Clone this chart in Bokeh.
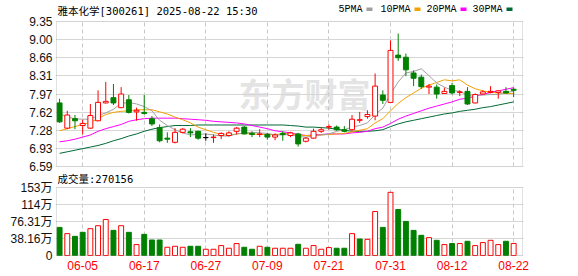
import numpy as np
from bokeh.plotting import figure
from bokeh.models import ColumnDataSource, FixedTicker, Label, Range1d, BoxAnnotation
from bokeh.layouts import column
from bokeh.embed import file_html
from bokeh.resources import INLINE

# ---------------- data ----------------
dates = ["05-30", "06-03", "06-04", "06-05", "06-06", "06-09", "06-10", "06-11", "06-12", "06-13",
         "06-16", "06-17", "06-18", "06-19", "06-20", "06-23", "06-24", "06-25", "06-26", "06-27",
         "06-30", "07-01", "07-02", "07-03", "07-04", "07-07", "07-08", "07-09", "07-10", "07-11",
         "07-14", "07-15", "07-16", "07-17", "07-18", "07-21", "07-22", "07-23", "07-24", "07-25",
         "07-28", "07-29", "07-30", "07-31", "08-01", "08-04", "08-05", "08-06", "08-07", "08-08",
         "08-11", "08-12", "08-13", "08-14", "08-15", "08-18", "08-19", "08-20", "08-21", "08-22"]

opens = [7.80, 7.32, 7.50, 7.37, 7.32, 7.46, 7.80, 7.90, 7.71, 7.86,
         7.63, 7.62, 7.50, 7.33, 7.13, 7.05, 7.24, 7.25, 7.26, 7.14,
         7.14, 7.18, 7.18, 7.26, 7.34, 7.22, 7.20, 7.20, 7.15, 7.22,
         7.18, 7.21, 7.07, 7.13, 7.26, 7.34, 7.34, 7.29, 7.29, 7.47,
         7.54, 7.55, 7.95, 7.81, 8.71, 8.67, 8.37, 8.29, 8.10, 8.10,
         7.98, 8.13, 8.00, 8.02, 7.80, 7.97, 8.00, 8.00, 8.02, 8.06]
highs = [7.88, 7.65, 7.57, 7.48, 7.78, 8.04, 8.20, 8.16, 8.10, 7.95,
         7.71, 7.95, 7.55, 7.39, 7.24, 7.32, 7.32, 7.32, 7.27, 7.22,
         7.20, 7.24, 7.26, 7.34, 7.36, 7.26, 7.30, 7.23, 7.22, 7.26,
         7.25, 7.23, 7.15, 7.31, 7.34, 7.39, 7.37, 7.36, 7.57, 7.63,
         7.66, 8.36, 8.04, 8.99, 9.12, 8.74, 8.42, 8.34, 8.16, 8.15,
         8.09, 8.18, 8.04, 8.10, 7.98, 8.04, 8.12, 8.04, 8.10, 8.09]
lows = [7.42, 7.30, 7.30, 7.20, 7.31, 7.45, 7.79, 7.76, 7.70, 7.60,
        7.46, 7.58, 7.36, 7.05, 7.04, 7.03, 7.22, 7.15, 7.10, 7.08,
        7.04, 7.11, 7.16, 7.20, 7.20, 7.15, 7.15, 7.10, 7.09, 7.08,
        7.15, 6.97, 7.05, 7.12, 7.23, 7.29, 7.27, 7.24, 7.27, 7.42,
        7.50, 7.47, 7.78, 7.80, 8.60, 8.31, 8.12, 8.07, 7.97, 7.88,
        7.97, 7.96, 7.93, 7.76, 7.79, 7.96, 7.98, 7.88, 7.98, 7.91]
closes = [7.44, 7.57, 7.46, 7.41, 7.56, 7.81, 7.83, 7.80, 7.97, 7.62,
          7.66, 7.60, 7.40, 7.08, 7.11, 7.24, 7.30, 7.23, 7.13, 7.14,
          7.15, 7.22, 7.23, 7.32, 7.21, 7.20, 7.21, 7.15, 7.19, 7.20,
          7.23, 7.02, 7.13, 7.26, 7.29, 7.35, 7.29, 7.26, 7.49, 7.48,
          7.58, 8.12, 7.85, 8.80, 8.66, 8.43, 8.27, 8.11, 8.12, 7.97,
          8.02, 7.99, 8.01, 7.78, 7.96, 8.01, 8.02, 8.03, 7.99, 8.04]

ma5 = [7.60, 7.53, 7.50, 7.49, 7.49, 7.56, 7.61, 7.68, 7.79, 7.81,
       7.78, 7.73, 7.65, 7.47, 7.37, 7.29, 7.23, 7.19, 7.20, 7.21,
       7.19, 7.17, 7.17, 7.21, 7.23, 7.24, 7.23, 7.22, 7.19, 7.19,
       7.20, 7.16, 7.15, 7.17, 7.19, 7.21, 7.26, 7.29, 7.34, 7.37,
       7.42, 7.58, 7.70, 7.97, 8.20, 8.37, 8.40, 8.45, 8.32, 8.18,
       8.10, 8.04, 8.02, 7.95, 7.95, 7.95, 7.96, 7.96, 8.00, 8.02]
ma10 = [7.27, 7.31, 7.35, 7.39, 7.43, 7.50, 7.58, 7.62, 7.64, 7.65,
        7.67, 7.67, 7.67, 7.63, 7.59, 7.53, 7.48, 7.42, 7.34, 7.29,
        7.24, 7.20, 7.18, 7.21, 7.22, 7.21, 7.20, 7.20, 7.20, 7.21,
        7.22, 7.19, 7.18, 7.18, 7.19, 7.20, 7.21, 7.22, 7.25, 7.28,
        7.31, 7.42, 7.50, 7.65, 7.79, 7.90, 7.99, 8.08, 8.14, 8.19,
        8.24, 8.22, 8.24, 8.14, 8.07, 8.03, 8.00, 7.99, 7.98, 7.98]
ma20 = [7.06, 7.08, 7.11, 7.15, 7.19, 7.26, 7.31, 7.35, 7.39, 7.45,
        7.48, 7.50, 7.51, 7.51, 7.51, 7.51, 7.50, 7.49, 7.48, 7.47,
        7.45, 7.44, 7.43, 7.42, 7.40, 7.37, 7.34, 7.31, 7.27, 7.25,
        7.23, 7.20, 7.18, 7.19, 7.20, 7.21, 7.21, 7.21, 7.23, 7.24,
        7.26, 7.31, 7.34, 7.41, 7.49, 7.55, 7.60, 7.65, 7.70, 7.74,
        7.78, 7.82, 7.87, 7.89, 7.93, 7.96, 8.00, 8.03, 8.06, 8.09]
ma30 = [6.84, 6.87, 6.90, 6.93, 6.96, 6.99, 7.03, 7.08, 7.12, 7.17,
        7.21, 7.26, 7.30, 7.33, 7.35, 7.37, 7.37, 7.37, 7.38, 7.38,
        7.38, 7.38, 7.38, 7.38, 7.38, 7.38, 7.38, 7.38, 7.38, 7.38,
        7.37, 7.36, 7.34, 7.34, 7.33, 7.32, 7.30, 7.28, 7.26, 7.26,
        7.26, 7.27, 7.29, 7.35, 7.40, 7.44, 7.47, 7.50, 7.53, 7.56,
        7.59, 7.61, 7.64, 7.66, 7.68, 7.71, 7.73, 7.76, 7.79, 7.82]

# volume in units of 10k (万)
volumes = [63.1, 49.1, 43.0, 52.0, 60.2, 66.9, 80.9, 56.4, 66.9, 52.0,
           24.5, 47.5, 34.8, 34.8, 18.5, 20.7, 18.5, 20.7, 20.7, 14.0,
           14.0, 22.3, 16.3, 26.8, 18.5, 14.0, 20.7, 18.5, 16.3, 16.3,
           16.3, 25.2, 16.3, 22.3, 14.0, 17.8, 16.3, 16.3, 49.1, 37.0,
           36.3, 98.8, 63.1, 141.8, 103.2, 76.5, 56.4, 45.3, 40.1, 34.1,
           24.5, 26.8, 26.8, 31.9, 22.3, 29.0, 34.1, 24.5, 31.9, 27.0156]

price_tick_labels = ["6.59", "6.93", "7.28", "7.62", "7.97", "8.31", "8.66", "9.00", "9.35"]
price_low, price_high = 6.59, 9.35
vol_tick_labels = ["0", "38.16万", "76.31万", "114万", "153万"]
vol_max = 152.62
date_tick_labels = ["06-05", "06-17", "06-27", "07-09", "07-21", "07-31", "08-12", "08-22"]

title_text = "雅本化学[300261] 2025-08-22 15:30"
ma_names = ["5PMA", "10PMA", "20PMA", "30PMA"]

# ---------------- styles / layout constants (page pixels) ----------------
RED = "#ff0000"
GREEN = "#008000"
MA_COLORS = ["#a0a0a0", "#f2a100", "#ff00ff", "#006a35"]
GRID = "#d6d6d6"
FRAME = "#9a9a9a"
MIXED_FONT = "DejaVu Sans Mono, Noto Sans CJK SC"

W = 578
H1, H2 = 173, 103
FX0, FX1 = 55, 523          # frame x extent
BX0, BX1 = 56, 522          # panel border x
MAIN_TOP, MAIN_BOT = 21, 166  # where 9.35 / 6.59 sit
VOL_TOP, VOL_BOT = 187, 255   # where vol max / 0 sit
F1_TOP, F1_BOT = 0, H1        # main frame (page y)
F2_TOP, F2_BOT = H1, 256      # volume frame (page y)

n = len(dates)
xs = list(range(n))
cand_col = [RED if c > o else (GREEN if c < o else "#000000") for o, c in zip(opens, closes)]
cand_fill = ["#ffffff" if c > o else col for o, c, col in zip(opens, closes, cand_col)]
src = ColumnDataSource(dict(
    x=xs, o=opens, h=highs, l=lows, c=closes,
    top=[max(o, c) for o, c in zip(opens, closes)],
    bot=[min(o, c) for o, c in zip(opens, closes)],
    col=cand_col, fill=cand_fill))

vol_up = [closes[i] > closes[i - 1] if i > 0 else closes[0] > opens[0] for i in range(n)]
vsrc = ColumnDataSource(dict(
    x=xs, v=volumes,
    col=[RED if u else GREEN for u in vol_up],
    fill=["#ffffff" if u else GREEN for u in vol_up]))

date_ticks = [dates.index(d) for d in date_tick_labels]
price_ticks = list(np.linspace(price_low, price_high, len(price_tick_labels)))
vol_ticks = list(np.linspace(0, vol_max, len(vol_tick_labels)))


def span_range(v_lo, p_lo, v_hi, p_hi, f_lo, f_hi):
    """Range whose values v_lo/v_hi land on pixels p_lo/p_hi inside a frame f_lo..f_hi."""
    k = (v_hi - v_lo) / (p_hi - p_lo)
    return Range1d(v_lo - (p_lo - f_lo) * k, v_hi + (f_hi - p_hi) * k)


# x: first slot edge at border left, last slot edge at border right
xr = span_range(-0.4, BX0, n + 0.15, BX1, FX0, FX1)
# y: pixel axes go downward, so map using negated pixel coordinates
yr_main = span_range(price_low, -MAIN_BOT, price_high, -MAIN_TOP, -F1_BOT, -F1_TOP)
yr_vol = span_range(0, -VOL_BOT, vol_max, -VOL_TOP, -F2_BOT, -F2_TOP)


def sx(page_x):
    return page_x - FX0


def sy(page_y, frame_bottom):
    return frame_bottom - page_y


def style_axes(fig):
    fig.outline_line_color = None
    fig.background_fill_color = "#ffffff"
    fig.border_fill_color = "#ffffff"
    fig.ygrid.grid_line_color = GRID
    fig.xgrid.ticker = FixedTicker(ticks=date_ticks)
    fig.xgrid.grid_line_color = "#c8c8c8"
    fig.xgrid.grid_line_dash = "4 3"
    ax = fig.yaxis[0]
    ax.axis_line_color = None
    ax.major_tick_line_color = None
    ax.minor_tick_line_color = None
    ax.major_tick_out = 0
    ax.major_tick_in = 0
    ax.major_label_standoff = 3
    ax.major_label_text_font_size = "12px"
    ax.major_label_text_font = "Liberation Sans, Noto Sans CJK SC"
    ax.major_label_text_color = "#111111"


def panel_chrome(fig, lo, hi, frame_w):
    # hide the dashed grid outside the panel
    fig.add_layout(BoxAnnotation(bottom=hi, fill_color="#ffffff", fill_alpha=1,
                                 line_color=None, level="underlay"))
    fig.add_layout(BoxAnnotation(top=lo, fill_color="#ffffff", fill_alpha=1,
                                 line_color=None, level="underlay"))
    # panel border
    fig.add_layout(BoxAnnotation(bottom=lo, top=hi, left=sx(BX0), right=sx(BX1),
                                 left_units="screen", right_units="screen",
                                 fill_alpha=0, line_color=FRAME, line_width=1))


# ---------------- main K-line panel ----------------
p = figure(width=W, height=H1, x_range=xr, y_range=yr_main, title=None,
           output_backend="svg", toolbar_location=None,
           min_border_left=FX0, min_border_right=W - FX1, min_border_top=0,
           min_border_bottom=0)
p.xaxis.visible = False
style_axes(p)
p.yaxis.ticker = FixedTicker(ticks=price_ticks)
p.yaxis.major_label_overrides = {t: s for t, s in zip(price_ticks, price_tick_labels)}

# watermark
p.add_layout(Label(x=sx(238), y=sy(92, F1_BOT), x_units="screen", y_units="screen",
                   text="东方财富", text_font="Noto Sans CJK SC", text_font_size="33px",
                   text_font_style="bold", text_color="#e4e4e4", text_baseline="middle",
                   level="image"))
panel_chrome(p, price_low, price_high, FX1 - FX0)

for ma, colr in zip([ma30, ma20, ma10, ma5], MA_COLORS[::-1]):
    p.line(xs, ma, line_color=colr, line_width=1)

p.segment(x0="x", y0="l", x1="x", y1="h", color="col", line_width=1, source=src)
p.vbar(x="x", width=0.64, top="top", bottom="bot", fill_color="fill", line_color="col",
       line_width=1, source=src)

# title & legend
p.add_layout(Label(x=sx(57), y=sy(10, F1_BOT), x_units="screen", y_units="screen",
                   text=title_text, text_font=MIXED_FONT, text_font_size="10.5px",
                   text_color="#000000", text_baseline="middle"))
leg_x = [338, 380, 426, 472]
for name, colr, lx in zip(ma_names, MA_COLORS, leg_x):
    p.add_layout(Label(x=sx(lx), y=sy(9, F1_BOT), x_units="screen", y_units="screen",
                       text=name, text_font="Liberation Mono", text_font_size="10px",
                       text_color="#000000", text_baseline="middle"))
    bx = lx + 6 * len(name) + 4
    p.add_layout(BoxAnnotation(left=sx(bx), right=sx(bx + 6),
                               bottom=sy(10.5, F1_BOT), top=sy(7, F1_BOT),
                               left_units="screen", right_units="screen",
                               bottom_units="screen", top_units="screen",
                               fill_color=colr, fill_alpha=1, line_color=None))

# ---------------- volume panel ----------------
q = figure(width=W, height=H2, x_range=xr, y_range=yr_vol, title=None,
           output_backend="svg", toolbar_location=None,
           min_border_left=FX0, min_border_right=W - FX1, min_border_top=0,
           min_border_bottom=H1 + H2 - F2_BOT)
style_axes(q)
q.yaxis.ticker = FixedTicker(ticks=vol_ticks)
q.yaxis.major_label_overrides = {t: s for t, s in zip(vol_ticks, vol_tick_labels)}
xa = q.xaxis[0]
xa.ticker = FixedTicker(ticks=date_ticks)
xa.major_label_overrides = {t: s for t, s in zip(date_ticks, date_tick_labels)}
xa.axis_line_color = None
xa.major_tick_line_color = None
xa.minor_tick_line_color = None
xa.major_tick_out = 0
xa.major_tick_in = 0
xa.major_label_standoff = 4
xa.major_label_text_font_size = "12px"
xa.major_label_text_font = "Liberation Sans"
xa.major_label_text_color = RED

panel_chrome(q, 0, vol_max, FX1 - FX0)
q.vbar(x="x", width=0.64, top="v", bottom=0, fill_color="fill", line_color="col",
       line_width=1, source=vsrc)

q.add_layout(Label(x=sx(57), y=sy(178.5, F2_BOT), x_units="screen", y_units="screen",
                   text="成交量:%d" % round(volumes[-1] * 10000),
                   text_font=MIXED_FONT, text_font_size="10.5px", text_color="#000000",
                   text_baseline="middle"))

layout = column(p, q, spacing=0)
open("out.html", "w").write(file_html(layout, INLINE))
